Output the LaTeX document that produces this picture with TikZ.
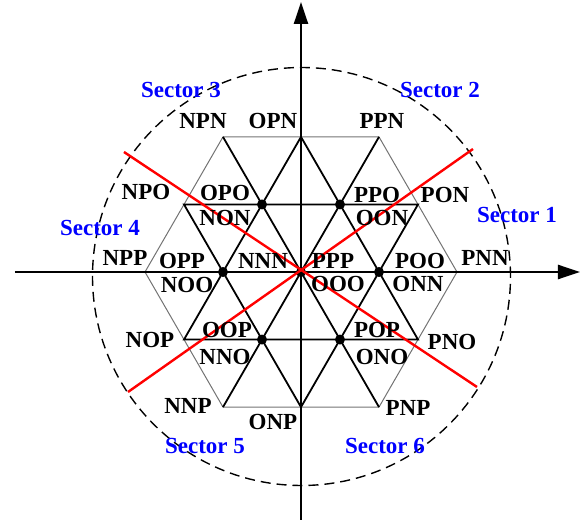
\documentclass[tikz,border=0pt]{standalone}
\usepackage{fontspec}
\setmainfont{Liberation Serif}
\usepackage{tikz}
\usetikzlibrary{arrows.meta, calc}
\definecolor{sectorblue}{RGB}{0, 0, 255}
\definecolor{borderred}{RGB}{255, 0, 0}

\begin{document}
\begin{tikzpicture}[
        x=0.5pt, y=0.5pt,
        state/.style={font=\fontsize{11.5}{13}\selectfont\bfseries, inner sep=0pt},
        sector/.style={font=\fontsize{11.5}{13}\selectfont\bfseries, text=sectorblue, inner sep=0pt},
        axis/.style={line width=1.2pt, -{Triangle[length=11pt, width=7pt]}},
        gridline/.style={line width=0.9pt},
        hexline/.style={black!55, line width=0.5pt},
        vdot/.style={circle, fill=black, inner sep=0pt, minimum size=5pt},
        bound/.style={borderred, line width=1.2pt},
    ]
    \useasboundingbox (-301,-248) rectangle (279,272);

    % Vertices and edge midpoints of the hexagon
    \def\ra{78}
    \foreach \k in {0,...,5} {
        \coordinate (V\k) at ({60*\k}:{2*\ra});
        \coordinate (M\k) at ({30+60*\k}:{sqrt(3)*\ra});
        \coordinate (D\k) at ({60*\k}:\ra);
    }
    \coordinate (O) at (0,0);

    % Circle
    \coordinate (C) at (0.5,-4.5);
    \draw[dash pattern=on 5pt off 3pt, line width=0.7pt] (C) circle (209);

    % Hexagon
    \draw[hexline] (V0) -- (V1) -- (V2) -- (V3) -- (V4) -- (V5) -- cycle;

    % Inner lines
    \draw[gridline] (M0) -- (M2) -- (M4) -- cycle;
    \draw[gridline] (M1) -- (M3) -- (M5) -- cycle;
    \draw[gridline] (V1) -- (V4);
    \draw[gridline] (V2) -- (V5);

    % Axes
    \coordinate (xl) at (-286,0);
    \coordinate (xr) at (279,0);
    \coordinate (yb) at (0,-248);
    \coordinate (yt) at (0,270);
    \draw[axis] (xl) -- (xr);
    \draw[axis] (yb) -- (yt);

    % Dots
    \foreach \k in {0,...,5} {
        \node[vdot] (dot\k) at (D\k) {};
    }
    \node[vdot] (dotO) at (O) {};

    % Sector borders
    \coordinate (bUL) at (-177,120);
    \coordinate (bLR) at (176,-115);
    \coordinate (bUR) at (172,123);
    \coordinate (bLL) at (-173,-120);
    \draw[bound] (bUL) -- (bLR);
    \draw[bound] (bUR) -- (bLL);

    % States
    \foreach \name/\x/\y in {NPN/-98/151, OPN/-28/151, PPN/81/151,
        NPO/-155/80, OPO/-76/79, PPO/76/77, PON/144/77,
        NON/-76/54, OON/81/54,
        NPP/-176/14, OPP/-119/11, NNN/-38/11, PPP/32/11, POO/119/11, PNN/184/14,
        NOO/-114/-13, OOO/37/-12, ONN/117/-12,
        NOP/-151/-68, OOP/-74/-58, POP/76/-58, PNO/151/-70,
        NNO/-76/-85, ONO/81/-85,
        NNP/-113/-134, ONP/-28/-150, PNP/107/-136} {
        \node[state] (l\name) at (\x,\y) {\name};
    }

    % Sectors
    \foreach \n/\x/\y in {1/216/57, 2/139/182, 3/-120/182, 4/-201/44, 5/-96/-174, 6/84/-174} {
        \node[sector] (sec\n) at (\x,\y) {Sector \n};
    }

\end{tikzpicture}
\end{document}
